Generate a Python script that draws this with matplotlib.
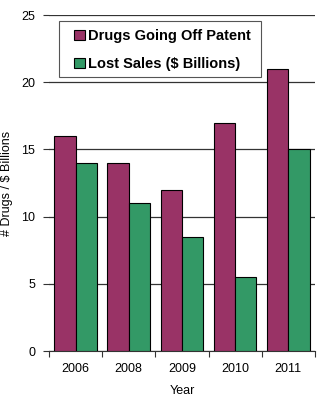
import numpy as np
import matplotlib.pyplot as plt
from matplotlib.patches import Rectangle

plt.rcParams['font.family'] = ['Liberation Sans', 'DejaVu Sans']

years = ['2006', '2008', '2009', '2010', '2011']
drugs_off_patent = [16, 14, 12, 17, 21]
lost_sales = [14, 11, 8.5, 5.5, 15]

magenta = '#993366'
green = '#339966'

fig = plt.figure(figsize=(3.24, 4.0), dpi=100)
ax = fig.add_axes([0.151, 0.1225, 0.821, 0.84])

x = np.arange(len(years))
w = 0.4
ax.bar(x - w / 2, drugs_off_patent, w, color=magenta, edgecolor='black', linewidth=0.8,
       label='Drugs Going Off Patent', zorder=3)
ax.bar(x + w / 2, lost_sales, w, color=green, edgecolor='black', linewidth=0.8,
       label='Lost Sales ($ Billions)', zorder=3)

ax.set_xlim(-0.5, len(years) - 0.5)
ax.set_ylim(0, 25)
ax.set_yticks([0, 5, 10, 15, 20, 25])
ax.yaxis.grid(True, color='#333333', linewidth=0.9, zorder=0)

ax.set_xticks(x)
ax.set_xticklabels(years)
ax.set_xticks(np.arange(-0.5, len(years)), minor=True)
ax.tick_params(axis='x', which='major', length=0, pad=9, labelsize=9)
ax.tick_params(axis='x', which='minor', length=4, width=0.8, color='#333333')
ax.tick_params(axis='y', length=4, width=0.8, color='#333333', labelsize=9, pad=6)

for s in ['top', 'right', 'left']:
    ax.spines[s].set_visible(False)
ax.spines['bottom'].set_color('#333333')
ax.spines['bottom'].set_linewidth(0.8)

ax.set_xlabel('Year', fontsize=9, labelpad=7)
ax.set_ylabel('# Drugs / $ Billions', fontsize=9)
ax.yaxis.set_label_coords(-0.135, 0.5)

# legend box drawn separately so the padding can be wider than tall
box = Rectangle((0.038, 0.8155), 0.759, 0.1667, transform=ax.transAxes,
                facecolor='white', edgecolor='#555555', linewidth=0.8, zorder=4)
ax.add_patch(box)
leg = ax.legend(loc='upper left', bbox_to_anchor=(0.094, 0.958), borderaxespad=0,
                prop={'weight': 'bold', 'size': 10.5}, frameon=False,
                handlelength=0.75, handleheight=0.75,
                handletextpad=0.2, borderpad=0, labelspacing=0.95)
leg.set_zorder(5)

fig.savefig('out.png', dpi=100)
